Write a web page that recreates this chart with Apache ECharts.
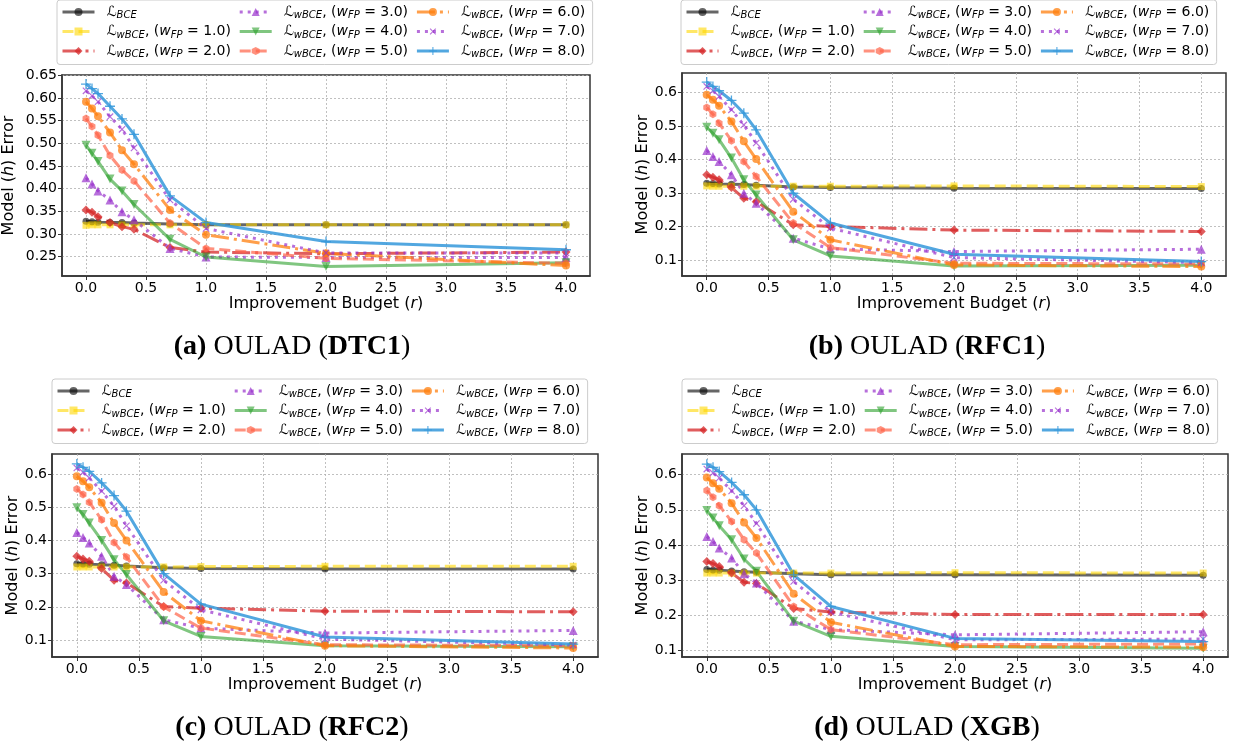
<!DOCTYPE html>
<html>
<head>
<meta charset="utf-8">
<script src="https://cdn.jsdelivr.net/npm/echarts@6/dist/echarts.min.js"></script>
<style>
html,body{margin:0;padding:0;background:#ffffff;}
#chart{width:1233px;height:748px;}
</style>
</head>
<body>
<div id="chart"></div>
<script>
// ---------------- DATA ----------------
const budgets = [0, 0.05, 0.1, 0.2, 0.3, 0.4, 0.7, 1.0, 2.0, 4.0];
const xTickValues = [0, 0.5, 1, 1.5, 2, 2.5, 3, 3.5, 4];
const seriesKeys = ['BCE', 'w1', 'w2', 'w3', 'w4', 'w5', 'w6', 'w7', 'w8'];
const weightLabels = ['', '1.0', '2.0', '3.0', '4.0', '5.0', '6.0', '7.0', '8.0'];
const panelTags = ['(a)', '(b)', '(c)', '(d)'];
const panelModels = ['DTC1', 'RFC1', 'RFC2', 'XGB'];

// (a) DTC1
const dtc1_BCE = [0.328, 0.327, 0.326, 0.325, 0.325, 0.324, 0.322, 0.320, 0.320, 0.320];
const dtc1_w1  = [0.319, 0.320, 0.320, 0.320, 0.320, 0.320, 0.320, 0.320, 0.320, 0.320];
const dtc1_w2  = [0.353, 0.348, 0.338, 0.325, 0.316, 0.310, 0.270, 0.260, 0.256, 0.260];
const dtc1_w3  = [0.424, 0.410, 0.395, 0.375, 0.349, 0.331, 0.268, 0.249, 0.248, 0.248];
const dtc1_w4  = [0.496, 0.478, 0.460, 0.421, 0.395, 0.365, 0.288, 0.249, 0.228, 0.236];
const dtc1_w5  = [0.555, 0.537, 0.518, 0.473, 0.441, 0.417, 0.324, 0.268, 0.246, 0.235];
const dtc1_w6  = [0.592, 0.577, 0.560, 0.524, 0.485, 0.454, 0.353, 0.298, 0.257, 0.230];
const dtc1_w7  = [0.616, 0.605, 0.592, 0.559, 0.531, 0.490, 0.375, 0.312, 0.258, 0.258];
const dtc1_w8  = [0.631, 0.621, 0.610, 0.582, 0.554, 0.520, 0.384, 0.325, 0.283, 0.265];

// (b) RFC1
const rfc1_BCE = [0.329, 0.328, 0.327, 0.326, 0.325, 0.323, 0.318, 0.316, 0.314, 0.313];
const rfc1_w1  = [0.321, 0.320, 0.320, 0.320, 0.320, 0.320, 0.320, 0.320, 0.321, 0.319];
const rfc1_w2  = [0.354, 0.347, 0.339, 0.316, 0.284, 0.274, 0.205, 0.200, 0.189, 0.185];
const rfc1_w3  = [0.427, 0.409, 0.394, 0.354, 0.299, 0.269, 0.165, 0.133, 0.125, 0.132];
const rfc1_w4  = [0.496, 0.478, 0.459, 0.404, 0.339, 0.294, 0.160, 0.112, 0.082, 0.084];
const rfc1_w5  = [0.555, 0.535, 0.508, 0.456, 0.394, 0.349, 0.210, 0.137, 0.090, 0.088];
const rfc1_w6  = [0.593, 0.578, 0.560, 0.513, 0.454, 0.401, 0.244, 0.160, 0.085, 0.080];
const rfc1_w7  = [0.618, 0.605, 0.588, 0.548, 0.503, 0.449, 0.281, 0.195, 0.107, 0.092];
const rfc1_w8  = [0.631, 0.618, 0.605, 0.576, 0.538, 0.488, 0.299, 0.210, 0.117, 0.095];

// (c) RFC2
const rfc2_BCE = [0.330, 0.329, 0.328, 0.327, 0.325, 0.323, 0.318, 0.315, 0.314, 0.314];
const rfc2_w1  = [0.320, 0.320, 0.320, 0.320, 0.320, 0.320, 0.320, 0.321, 0.322, 0.322];
const rfc2_w2  = [0.352, 0.344, 0.337, 0.315, 0.280, 0.272, 0.201, 0.196, 0.187, 0.185];
const rfc2_w3  = [0.424, 0.409, 0.392, 0.352, 0.292, 0.267, 0.161, 0.136, 0.121, 0.129];
const rfc2_w4  = [0.498, 0.478, 0.452, 0.400, 0.342, 0.297, 0.158, 0.111, 0.083, 0.080];
const rfc2_w5  = [0.555, 0.538, 0.515, 0.462, 0.394, 0.350, 0.200, 0.136, 0.086, 0.083];
const rfc2_w6  = [0.593, 0.578, 0.560, 0.513, 0.452, 0.400, 0.245, 0.158, 0.083, 0.076];
const rfc2_w7  = [0.618, 0.605, 0.588, 0.548, 0.503, 0.444, 0.280, 0.191, 0.103, 0.085];
const rfc2_w8  = [0.630, 0.620, 0.608, 0.573, 0.535, 0.488, 0.300, 0.208, 0.109, 0.088];

// (d) XGB
const xgb_BCE = [0.330, 0.329, 0.328, 0.326, 0.324, 0.322, 0.318, 0.315, 0.315, 0.314];
const xgb_w1  = [0.320, 0.320, 0.320, 0.320, 0.320, 0.320, 0.320, 0.320, 0.321, 0.320];
const xgb_w2  = [0.353, 0.347, 0.339, 0.320, 0.294, 0.290, 0.219, 0.209, 0.202, 0.202];
const xgb_w3  = [0.424, 0.410, 0.391, 0.363, 0.318, 0.292, 0.183, 0.159, 0.144, 0.153];
const xgb_w4  = [0.498, 0.477, 0.455, 0.415, 0.360, 0.325, 0.183, 0.140, 0.111, 0.106];
const xgb_w5  = [0.555, 0.536, 0.512, 0.467, 0.415, 0.377, 0.225, 0.159, 0.116, 0.118];
const xgb_w6  = [0.592, 0.576, 0.560, 0.519, 0.464, 0.420, 0.261, 0.180, 0.111, 0.109];
const xgb_w7  = [0.616, 0.605, 0.591, 0.554, 0.512, 0.461, 0.296, 0.209, 0.130, 0.132];
const xgb_w8  = [0.630, 0.621, 0.609, 0.578, 0.543, 0.500, 0.315, 0.225, 0.134, 0.125];

const panelValues = [
  [dtc1_BCE, dtc1_w1, dtc1_w2, dtc1_w3, dtc1_w4, dtc1_w5, dtc1_w6, dtc1_w7, dtc1_w8],
  [rfc1_BCE, rfc1_w1, rfc1_w2, rfc1_w3, rfc1_w4, rfc1_w5, rfc1_w6, rfc1_w7, rfc1_w8],
  [rfc2_BCE, rfc2_w1, rfc2_w2, rfc2_w3, rfc2_w4, rfc2_w5, rfc2_w6, rfc2_w7, rfc2_w8],
  [xgb_BCE, xgb_w1, xgb_w2, xgb_w3, xgb_w4, xgb_w5, xgb_w6, xgb_w7, xgb_w8]
];

// ---------------- LAYOUT / STYLE ----------------
const layouts = [
  {left: 62,  top: 75,  width: 528, height: 201, yMin: 0.207, yMax: 0.651, step: 0.05, dec: 2, yGap: 44, lgLeft: 57,  lgTop: 0,   capX: 292, capY: 347},
  {left: 682, top: 73,  width: 544, height: 203, yMin: 0.052, yMax: 0.658, step: 0.1,  dec: 1, yGap: 30, lgLeft: 681, lgTop: 0,   capX: 927, capY: 347},
  {left: 52,  top: 454, width: 546, height: 203, yMin: 0.049, yMax: 0.660, step: 0.1,  dec: 1, yGap: 30, lgLeft: 52,  lgTop: 379, capX: 292, capY: 728},
  {left: 682, top: 454, width: 546, height: 203, yMin: 0.081, yMax: 0.659, step: 0.1,  dec: 1, yGap: 30, lgLeft: 682, lgTop: 379, capX: 927, capY: 728}
];

const hexPath = 'path://M0,-1 L0.866,-0.5 L0.866,0.5 L0,1 L-0.866,0.5 L-0.866,-0.5 Z';
const plusPath = 'path://M-0.13,-1 L0.13,-1 L0.13,-0.13 L1,-0.13 L1,0.13 L0.13,0.13 L0.13,1 L-0.13,1 L-0.13,0.13 L-1,0.13 L-1,-0.13 L-0.13,-0.13 Z';
const DASH = [11, 5], DASHDOT = [18, 5, 3, 5], DOT = [3, 5];
const styleDefs = [
  {color: '#000000', opacity: 0.6,  dash: 'solid', symbol: 'circle',   size: 7,  rotate: 0},
  {color: '#ffd700', opacity: 0.6,  dash: DASH,    symbol: 'rect',     size: 7,  rotate: 0},
  {color: '#d62728', opacity: 0.75, dash: DASHDOT, symbol: 'diamond',  size: 9,  rotate: 0},
  {color: '#9932cc', opacity: 0.7,  dash: DOT,     symbol: 'triangle', size: 9,  rotate: 0},
  {color: '#2ca02c', opacity: 0.6,  dash: 'solid', symbol: 'triangle', size: 9,  rotate: 180},
  {color: '#ff6347', opacity: 0.7,  dash: DASH,    symbol: hexPath,    size: 8,  rotate: 0},
  {color: '#ff7f0e', opacity: 0.75, dash: DASHDOT, symbol: 'circle',   size: 8,  rotate: 0},
  {color: '#9932cc', opacity: 0.7,  dash: DOT,     symbol: plusPath,   size: 9,  rotate: 45},
  {color: '#3498db', opacity: 0.85, dash: 'solid', symbol: plusPath,   size: 10, rotate: 0}
];

const FONT = 'DejaVu Sans';
const legendRich = {
  g:  {width: 7},
  g2: {width: 8},
  L:  {fontFamily: FONT, fontSize: 14, lineHeight: 17, verticalAlign: 'middle', color: '#000'},
  m:  {fontFamily: FONT, fontSize: 14, lineHeight: 17, verticalAlign: 'middle', color: '#000'},
  i:  {fontFamily: FONT, fontSize: 14, lineHeight: 17, verticalAlign: 'middle', fontStyle: 'italic', color: '#000'},
  s:  {fontFamily: FONT, fontSize: 10, lineHeight: 10, verticalAlign: 'bottom', fontStyle: 'italic', color: '#000'}
};
function legendFormatter(name) {
  const idx = seriesKeys.indexOf(name);
  if (idx === 0) return '{g| }{L|ℒ}{s|BCE}';
  return '{g| }{L|ℒ}{s|wBCE}{m|, (}{i|w}{s|FP}{m| = ' + weightLabels[idx] + ')}{g2| }';
}
const axisNameRich = {
  n: {fontFamily: FONT, fontSize: 16, color: '#000', lineHeight: 19},
  i: {fontFamily: FONT, fontSize: 16, color: '#000', fontStyle: 'italic', lineHeight: 19}
};

function makeFormatter(step, dec, lo, hi) {
  return function (v) {
    const k = Math.round(v / step);
    const snapped = k * step;
    if (Math.abs(v - snapped) > 1e-6 || snapped < lo - 1e-9 || snapped > hi + 1e-9) return '';
    return snapped.toFixed(dec);
  };
}

const grids = [], xAxes = [], yAxes = [], series = [], legends = [], graphics = [];
layouts.forEach((lay, p) => {
  grids.push({
    left: lay.left, top: lay.top, width: lay.width, height: lay.height,
    show: true, borderColor: '#333333', borderWidth: 1.5, backgroundColor: 'transparent',
    containLabel: false, outerBoundsMode: 'none'
  });
  xAxes.push({
    type: 'value', gridIndex: p, min: -0.2, max: 4.2, minInterval: 0.5, maxInterval: 0.5,
    axisLine: {show: true, onZero: false, lineStyle: {color: '#333333', width: 1.5}},
    axisTick: {show: true, length: 4, lineStyle: {color: '#333333', width: 1}, customValues: xTickValues},
    axisLabel: {fontFamily: FONT, fontSize: 14, color: '#000', margin: 5, formatter: makeFormatter(0.5, 1, 0, 4)},
    splitLine: {show: true, lineStyle: {color: '#b0b0b0', width: 0.8, type: [2, 2]}},
    name: '{n|Improvement Budget (}{i|r}{n|)}', nameLocation: 'middle', nameGap: 18,
    nameTextStyle: {rich: axisNameRich}
  });
  const yTicks = [];
  for (let k = Math.ceil(lay.yMin / lay.step - 1e-9); k * lay.step <= lay.yMax + 1e-9; k++) yTicks.push(+(k * lay.step).toFixed(4));
  yAxes.push({
    type: 'value', gridIndex: p, min: lay.yMin, max: lay.yMax, minInterval: lay.step, maxInterval: lay.step,
    axisLine: {show: true, onZero: false, lineStyle: {color: '#333333', width: 1.5}},
    axisTick: {show: true, length: 4, lineStyle: {color: '#333333', width: 1}, customValues: yTicks},
    axisLabel: {fontFamily: FONT, fontSize: 14, color: '#000', margin: 5, formatter: makeFormatter(lay.step, lay.dec, lay.yMin, lay.yMax)},
    splitLine: {show: true, lineStyle: {color: '#b0b0b0', width: 0.8, type: [2, 2]}},
    name: '{n|Model (}{i|h}{n|) Error}', nameLocation: 'middle', nameGap: lay.yGap,
    nameTextStyle: {rich: axisNameRich}
  });
  seriesKeys.forEach((key, s) => {
    const st = styleDefs[s];
    const vals = panelValues[p][s];
    series.push({
      type: 'line', name: key, xAxisIndex: p, yAxisIndex: p,
      data: budgets.map((x, i) => [x, vals[i]]),
      symbol: st.symbol, symbolSize: st.size, symbolRotate: st.rotate, symbolKeepAspect: true,
      showSymbol: true, showAllSymbol: true, silent: true, animation: false,
      lineStyle: {color: st.color, width: 3, type: st.dash, opacity: st.opacity, cap: 'butt'},
      itemStyle: {color: st.color, opacity: st.opacity, borderWidth: 0},
      emphasis: {disabled: true}
    });
  });
  legends.push({
    show: true, orient: 'vertical', left: lay.lgLeft, top: lay.lgTop, height: 60,
    itemWidth: 32, itemHeight: 10, itemGap: 4, padding: [5, 4, 5, 4],
    data: seriesKeys, formatter: legendFormatter, selectedMode: false,
    textStyle: {rich: legendRich, color: '#000'},
    backgroundColor: 'rgba(255,255,255,0.8)', borderColor: '#cccccc', borderWidth: 1, borderRadius: 3,
    lineStyle: {width: 3}, itemStyle: {borderWidth: 0}
  });
  graphics.push({
    type: 'text', x: lay.capX, y: lay.capY,
    style: {
      text: '{b|' + panelTags[p] + '}{r| OULAD (}{b|' + panelModels[p] + '}{r|)}',
      rich: {
        b: {fontFamily: 'Liberation Serif', fontSize: 28, fontWeight: 'bold', fill: '#000', color: '#000'},
        r: {fontFamily: 'Liberation Serif', fontSize: 28, fill: '#000', color: '#000'}
      },
      align: 'center', verticalAlign: 'middle', fill: '#000'
    }
  });
});

const chart = echarts.init(document.getElementById('chart'), null, {renderer: 'canvas'});
chart.setOption({
  animation: false,
  backgroundColor: '#ffffff',
  grid: grids, xAxis: xAxes, yAxis: yAxes, series: series, legend: legends,
  graphic: graphics
});
</script>
</body>
</html>
